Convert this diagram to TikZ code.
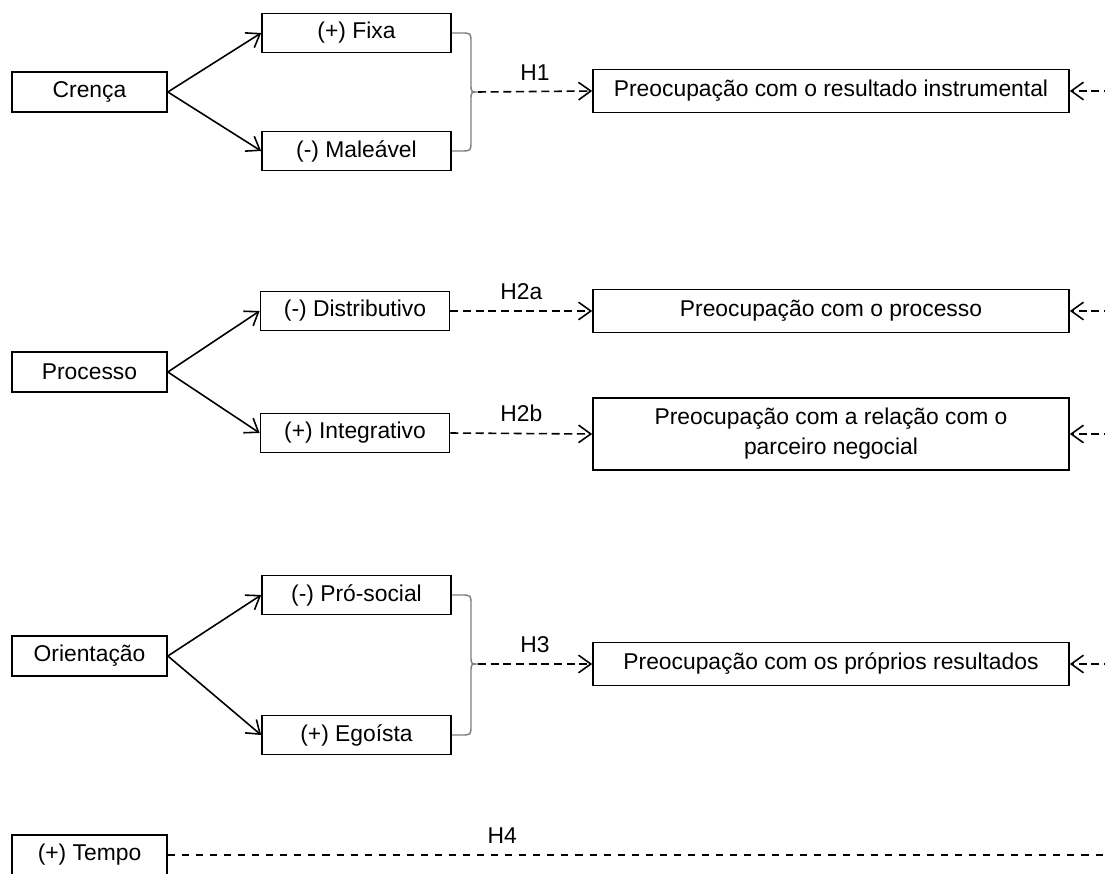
\documentclass[tikz,border=0pt]{standalone}
\usepackage{fontspec}
\setmainfont{Liberation Sans}
\usepackage{tikz}
\usetikzlibrary{arrows.meta}
\pgfdeclarelayer{nodelayer}
\pgfdeclarelayer{edgelayer}
\pgfsetlayers{edgelayer,nodelayer,main}
\tikzstyle{none}=[inner sep=0pt]
\tikzset{box/.style={draw=black, line width=1pt, fill=white, inner sep=0pt,
align=center, anchor=center}}
\tikzset{short/.style={box, minimum width=3.1cm, minimum height=0.8cm}}
\tikzset{mid/.style={box, minimum width=3.78cm, minimum height=0.78cm}}
\tikzset{long/.style={box, minimum width=9.52cm, minimum height=0.86cm}}
\tikzset{solidarrow/.style={line width=0.9pt, -{Straight Barb[length=7pt,width=10pt]}}}
\tikzset{dasharrow/.style={line width=0.9pt, dash pattern=on 4.6pt off 2.6pt,
-{Straight Barb[length=7pt,width=10pt]}}}
\tikzset{hypo/.style={above=6pt, inner sep=0pt}}
\tikzset{brace/.style={draw=black!50, line width=0.8pt}}

\begin{document}
\begin{tikzpicture}[x=0.02cm, y=-0.02cm, font=\fontsize{13}{17}\selectfont]
	\useasboundingbox (0,0) rectangle (1105,874);
	\begin{pgfonlayer}{nodelayer}
		\node [style=short] (1) at (89.5, 92) {Crença};
		\node [style=mid] (2) at (356.5, 33) {(+) Fixa};
		\node [style=mid] (3) at (356.5, 151) {(-) Maleável};
		\node [style=long] (4) at (831, 91) {Preocupação com o resultado instrumental};
		\node [style=short] (5) at (89.5, 372) {Processo};
		\node [style=mid] (6) at (355, 311) {(-) Distributivo};
		\node [style=mid] (7) at (355, 433) {(+) Integrativo};
		\node [style=long] (8) at (831, 311) {Preocupação com o processo};
		\node [style=long, minimum height=1.44cm] (9) at (831, 434) {Preocupação com a relação com o\\parceiro negocial};
		\node [style=short] (10) at (89.5, 656) {Orientação};
		\node [style=mid] (11) at (356.5, 595) {(-) Pró-social};
		\node [style=mid] (12) at (356.5, 735) {(+) Egoísta};
		\node [style=long] (13) at (831, 664) {Preocupação com os próprios resultados};
		\node [style=short] (14) at (89.5, 855) {(+) Tempo};
		\node [style=none] (15) at (478, 92) {};
		\node [style=none] (16) at (478, 664) {};
		\node [style=none] (17) at (1112, 91) {};
		\node [style=none] (18) at (1112, 311) {};
		\node [style=none] (19) at (1112, 434) {};
		\node [style=none] (20) at (1112, 664) {};
		\node [style=none] (21) at (1110, 855) {};
	\end{pgfonlayer}
	\begin{pgfonlayer}{edgelayer}
		% crença
		\draw [style=solidarrow] (1.east) to (2.west);
		\draw [style=solidarrow] (1.east) to (3.west);
		\draw [style=brace] (2.east) -- (461,33) .. controls (471,33) .. (471,43) -- (471,84)
			.. controls (471,92) .. (15.center) .. controls (471,92) .. (471,100) -- (471,141)
			.. controls (471,151) .. (461,151) -- (3.east);
		\draw [style=dasharrow] (15.center) to node [style=hypo] {H1} (4.west);
		\draw [style=dasharrow] (17.center) to (4.east);
		% processo
		\draw [style=solidarrow] (5.east) to (6.west);
		\draw [style=solidarrow] (5.east) to (7.west);
		\draw [style=dasharrow] (6.east) to node [style=hypo] {H2a} (8.west);
		\draw [style=dasharrow] (7.east) to node [style=hypo] {H2b} (9.west);
		\draw [style=dasharrow] (18.center) to (8.east);
		\draw [style=dasharrow] (19.center) to (9.east);
		% orientação
		\draw [style=solidarrow] (10.east) to (11.west);
		\draw [style=solidarrow] (10.east) to (12.west);
		\draw [style=brace] (11.east) -- (461,595) .. controls (471,595) .. (471,605) -- (471,656)
			.. controls (471,664) .. (16.center) .. controls (471,664) .. (471,672) -- (471,725)
			.. controls (471,735) .. (461,735) -- (12.east);
		\draw [style=dasharrow] (16.center) to node [style=hypo] {H3} (13.west);
		\draw [style=dasharrow] (20.center) to (13.east);
		% tempo
		\draw [line width=1.6pt, dash pattern=on 4pt off 4pt] (14.east) to node [pos=0.355, above=6pt, inner sep=0pt] {H4} (21.center);
	\end{pgfonlayer}
\end{tikzpicture}
\end{document}
